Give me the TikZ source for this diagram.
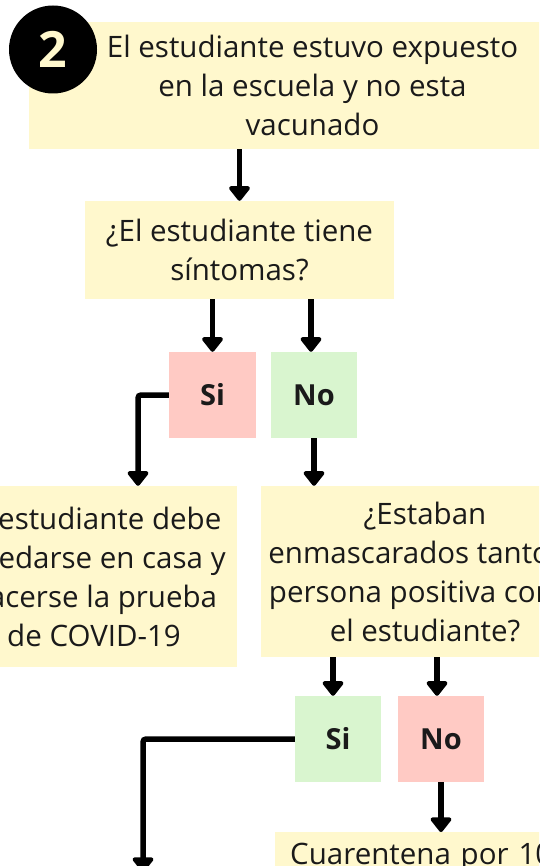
\documentclass[tikz,border=0pt]{standalone}
\usepackage{fontspec}
\setmainfont{Open Sans}
\usetikzlibrary{positioning}
\usetikzlibrary{arrows.meta}
\definecolor{CREAM}{HTML}{FFF8CD}
\definecolor{ROSE}{HTML}{FFCAC4}
\definecolor{MINT}{HTML}{D9F5CF}
\definecolor{INK}{HTML}{1A1A1A}
\tikzset{
	every node/.style = {font=\fontsize{29.5}{39}\selectfont, text=INK, inner sep=0pt, align=center},
	yellowbox/.style = {fill=CREAM},
	redbox/.style = {fill=ROSE, font=\fontsize{29}{39}\selectfont\bfseries, minimum width=86pt, minimum height=86pt},
	greenbox/.style = {fill=MINT, font=\fontsize{29}{39}\selectfont\bfseries, minimum width=86pt, minimum height=86pt},
	flow/.style = {line width=5.5pt, rounded corners=3pt, -{Triangle[width=24pt,length=16pt,round]}}
}

\begin{document}
\begin{tikzpicture}[x=1pt, y=-1pt]
		\useasboundingbox (0,0) rectangle (539,866);
		\clip (0,0) rectangle (539,866);
		% question boxes
		\node[yellowbox, minimum width=567pt, minimum height=127pt] (top) at (312.5,85.5)
		      {El estudiante estuvo expuesto\\en la escuela y no esta\\vacunado};
		\node[circle, fill=black, minimum size=88pt, text=CREAM, font=\fontsize{50}{50}\selectfont\bfseries] (num) at (53,49.5) {2};
		\node[yellowbox, minimum width=309pt, minimum height=98pt] (q1) at (239.5,250)
		      {¿El estudiante tiene\\síntomas?};
		% first answers
		\node[redbox, minimum width=87pt] (si1) at (212.5,395) {Si};
		\node[greenbox] (no1) at (314,395) {No};
		\node[yellowbox, minimum width=286pt, minimum height=181pt] (res1) at (94,576.5)
		      {El estudiante debe\\quedarse en casa y\\hacerse la prueba\\de COVID-19};
		\node[yellowbox, minimum width=328pt, minimum height=171pt] (q2) at (425,571.5)
		      {¿Estaban\\enmascarados tanto la\\persona positiva como\\el estudiante?};
		% second answers
		\node[greenbox] (si2) at (338,739) {Si};
		\node[redbox] (no2) at (441,739) {No};
		\node[yellowbox, anchor=north west, text width=300pt, align=left, inner xsep=15pt, inner ysep=11pt, minimum height=60pt] (res2) at (275,832)
		      {Cuarentena por 10 días};
		\coordinate (down) at (143,872);
		% connectors
		\draw[flow] (top.south -| q1.north) -- (q1.north);
		\draw[flow] (q1.south -| si1.north) -- (si1.north);
		\draw[flow] ([xshift=-3pt]q1.south -| no1.north) -- ([xshift=-3pt]no1.north);
		\draw[flow] (si1.west) -| ([xshift=44pt]res1.north);
		\draw[flow] (no1.south) -- (no1.south |- q2.north);
		\draw[flow] ([xshift=-5pt]q2.south -| si2.north) -- ([xshift=-5pt]si2.north);
		\draw[flow] ([xshift=-4pt]q2.south -| no2.north) -- ([xshift=-4pt]no2.north);
		\draw[flow] (si2.west) -| (down);
		\draw[flow] (no2.south) -- (no2.south |- res2.north);
	\end{tikzpicture}
\end{document}
